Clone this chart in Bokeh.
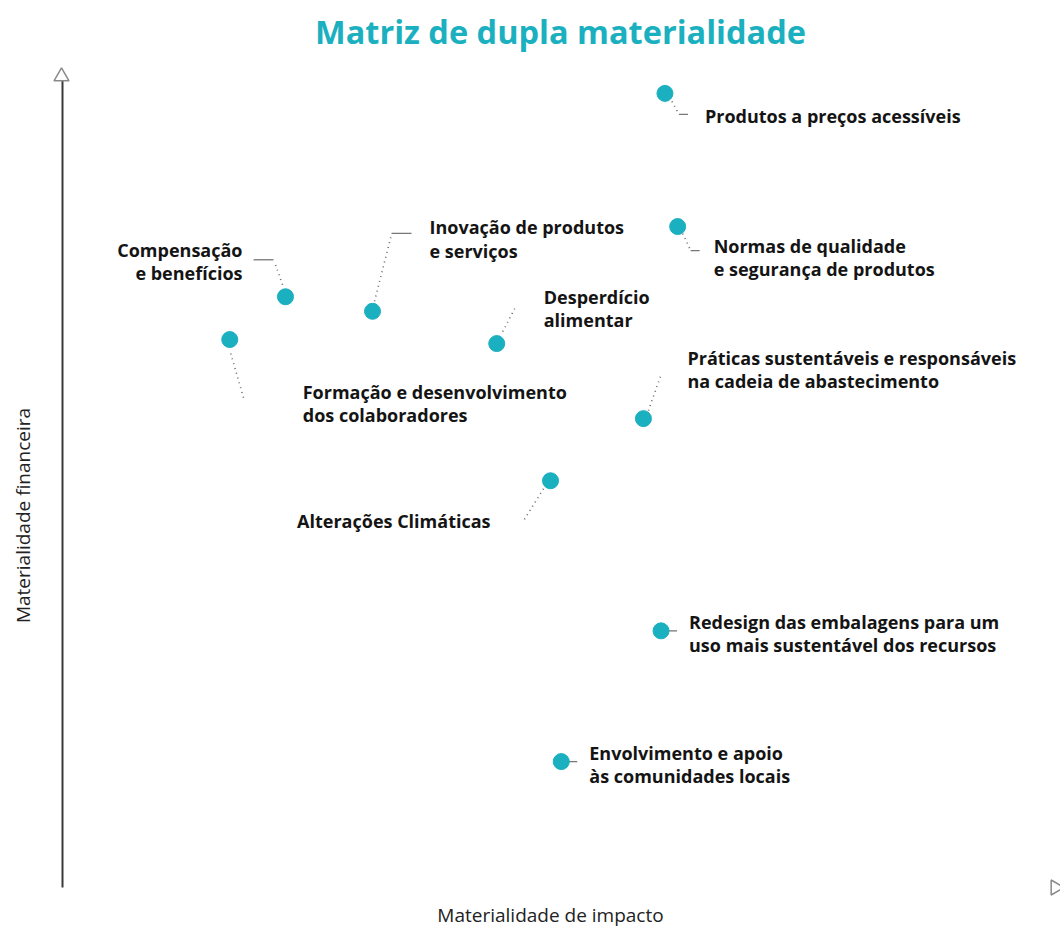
import math
from bokeh.plotting import figure
from bokeh.models import Range1d
from bokeh.core.properties import value
from bokeh.embed import file_html
from bokeh.resources import INLINE

# ---------------- data ----------------
topics = [
    "Produtos a preços acessíveis",
    "Normas de qualidade e segurança de produtos",
    "Compensação e benefícios",
    "Inovação de produtos e serviços",
    "Desperdício alimentar",
    "Formação e desenvolvimento dos colaboradores",
    "Práticas sustentáveis e responsáveis na cadeia de abastecimento",
    "Alterações Climáticas",
    "Redesign das embalagens para um uso mais sustentável dos recursos",
    "Envolvimento e apoio às comunidades locais",
]
impact = [6.16, 6.29, 2.28, 3.17, 4.44, 1.71, 5.94, 4.99, 6.12, 5.10]
financial = [9.84, 8.19, 7.32, 7.14, 6.74, 6.79, 5.81, 5.04, 3.18, 1.56]
label_lines = [
    ["Produtos a preços acessíveis"],
    ["Normas de qualidade", "e segurança de produtos"],
    ["Compensação", "e benefícios"],
    ["Inovação de produtos", "e serviços"],
    ["Desperdício", "alimentar"],
    ["Formação e desenvolvimento", "dos colaboradores"],
    ["Práticas sustentáveis e responsáveis", "na cadeia de abastecimento"],
    ["Alterações Climáticas"],
    ["Redesign das embalagens para um", "uso mais sustentável dos recursos"],
    ["Envolvimento e apoio", "às comunidades locais"],
]
title_text = "Matriz de dupla materialidade"
x_title = "Materialidade de impacto"
y_title = "Materialidade financeira"

# ---------------- layout (pixels) ----------------
W, H = 1060, 926
X0_PX, X10_PX = 62, 1040   # px for impact 0 / 10
Y0_PX, Y10_PX = 887, 80    # px (from top) for financial 0 / 10
sx = (X10_PX - X0_PX) / 10.0
sy = (Y0_PX - Y10_PX) / 10.0

def dx(px):
    return px / sx

def dy(px):
    return -px / sy

def fx(px):  # px -> data x
    return (px - X0_PX) / sx

def fy(py):  # px from top -> data y
    return (Y0_PX - py) / sy

# per label: text offset, align, dotted path, solid path (pixel offsets from point)
label_layout = [
    dict(t=(40, 23), a="left", dot=[(7, 8), (14, 21)], sol=[(14, 21), (23, 21)]),
    dict(t=(36, 19), a="left", dot=[(5, 7), (13, 24)], sol=[(13, 24), (22, 24)]),
    dict(t=(-43, -47), a="right", dot=[(-3, -12), (-11, -35)], sol=[(-12, -37), (-32, -37)]),
    dict(t=(57, -84), a="left", dot=[(2, -10), (19, -77)], sol=[(19, -78), (39, -78)]),
    dict(t=(47, -47), a="left", dot=[(6, -12), (18, -35)], sol=None),
    dict(t=(73, 52), a="left", dot=[(1, 14), (14, 59)], sol=None),
    dict(t=(44, -61), a="left", dot=[(5, -8), (17, -42)], sol=None),
    dict(t=(-60, 40), a="right", dot=[(-7, 8), (-27, 40)], sol=None),
    dict(t=(28, -9), a="left", dot=None, sol=[(6, 0), (16, 0)]),
    dict(t=(28, -9), a="left", dot=None, sol=[(7, 0), (16, 0)]),
]
LINE_SPACING = 23.5

TEAL = "#1bb0c0"
FONT = value("Open Sans")

p = figure(
    width=W, height=H,
    x_range=Range1d(-X0_PX / sx, (W - X0_PX) / sx),
    y_range=Range1d((Y0_PX - H) / sy, Y0_PX / sy),
    output_backend="svg", toolbar_location=None,
    x_axis_location=None, y_axis_location=None,
    min_border=0, outline_line_color=None,
)
p.grid.visible = False
p.background_fill_color = "white"
p.border_fill_color = "white"

# vertical axis line + arrow heads
p.segment(x0=[fx(62)], y0=[fy(80)], x1=[fx(62)], y1=[fy(887)],
          line_color="#3a3a3a", line_width=2)
p.scatter(x=[fx(61)], y=[fy(76)], marker="triangle", size=15,
          fill_color="white", line_color="#8a8a8a", line_width=1.5)
p.scatter(x=[fx(1055)], y=[fy(887)], marker="triangle", size=15, angle=-math.pi / 2,
          fill_color="white", line_color="#8a8a8a", line_width=1.5)

# leaders
dot_xs, dot_ys, sol_xs, sol_ys = [], [], [], []
for i, lay in enumerate(label_layout):
    if lay["dot"]:
        dot_xs.append([impact[i] + dx(o[0]) for o in lay["dot"]])
        dot_ys.append([financial[i] + dy(o[1]) for o in lay["dot"]])
    if lay["sol"]:
        sol_xs.append([impact[i] + dx(o[0]) for o in lay["sol"]])
        sol_ys.append([financial[i] + dy(o[1]) for o in lay["sol"]])
p.multi_line(xs=dot_xs, ys=dot_ys, line_color="#6a6a6a", line_width=1.6, line_dash="1 4")
p.multi_line(xs=sol_xs, ys=sol_ys, line_color="#777777", line_width=1.3)

# points
p.scatter(x=impact, y=financial, size=16, fill_color=TEAL, line_color=TEAL)

# labels
for align in ("left", "right"):
    tx, ty, tt = [], [], []
    for i, lay in enumerate(label_layout):
        if lay["a"] != align:
            continue
        for j, line in enumerate(label_lines[i]):
            tx.append(impact[i] + dx(lay["t"][0]))
            ty.append(financial[i] + dy(lay["t"][1] + j * LINE_SPACING))
            tt.append(line)
    p.text(x=tx, y=ty, text=tt, text_font=FONT, text_font_style="bold",
           text_font_size="18px", text_color="#141414",
           text_align=align, text_baseline="middle")

# title and axis titles
p.text(x=[fx(560)], y=[fy(31)], text=[title_text], text_font=FONT,
       text_font_style="bold", text_font_size="32.5px", text_color=TEAL,
       text_align="center", text_baseline="middle")
p.text(x=[fx(550)], y=[fy(914)], text=[x_title], text_font=FONT,
       text_font_size="19px", text_color="#222222",
       text_align="center", text_baseline="middle")
p.text(x=[fx(22)], y=[fy(515)], text=[y_title], text_font=FONT, angle=math.pi / 2,
       text_font_size="19px", text_color="#222222",
       text_align="center", text_baseline="middle")

open("out.html", "w").write(file_html(p, INLINE))
